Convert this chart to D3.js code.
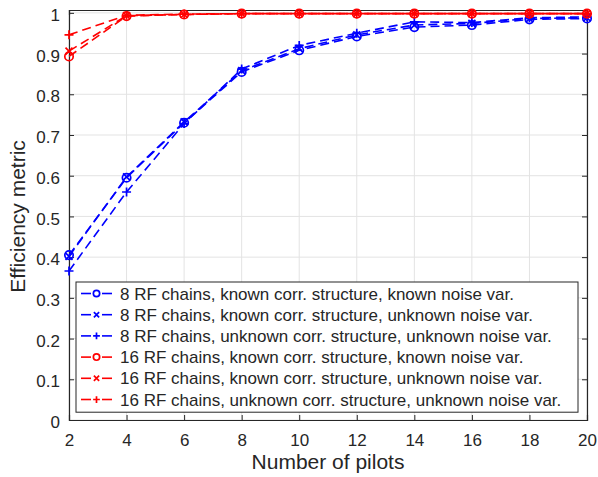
<!DOCTYPE html>
<html>
<head>
<meta charset="utf-8">
<script src="https://cdn.jsdelivr.net/npm/d3@7"></script>
<style>
  body { margin: 0; background: #fff; }
  text { font-family: "Liberation Sans", Arial, sans-serif; fill: #262626; }
</style>
</head>
<body>
<script>
// pilots on x axis
const pilots = [2, 4, 6, 8, 10, 12, 14, 16, 18, 20];

// 8 RF chains (blue)
const rf8KnownKnown     = [0.405, 0.595, 0.730, 0.855, 0.908, 0.942, 0.965, 0.970, 0.984, 0.986];
const rf8KnownUnknown   = [0.402, 0.597, 0.732, 0.858, 0.912, 0.946, 0.970, 0.974, 0.986, 0.988];
const rf8UnknownUnknown = [0.366, 0.560, 0.728, 0.862, 0.920, 0.950, 0.978, 0.976, 0.988, 0.990];

// 16 RF chains (red)
const rf16KnownKnown     = [0.893, 0.992, 0.996, 0.998, 0.998, 0.998, 0.998, 0.998, 0.998, 0.998];
const rf16KnownUnknown   = [0.906, 0.993, 0.996, 0.998, 0.998, 0.998, 0.998, 0.998, 0.998, 0.998];
const rf16UnknownUnknown = [0.946, 0.994, 0.997, 0.998, 0.998, 0.998, 0.998, 0.998, 0.998, 0.998];

const xTicks = [2, 4, 6, 8, 10, 12, 14, 16, 18, 20];
const yTicks = [0, 0.1, 0.2, 0.3, 0.4, 0.5, 0.6, 0.7, 0.8, 0.9, 1];

const series = [
  { name: "8 RF chains, known corr. structure, known noise var.", values: rf8KnownKnown, color: "#0000ff", marker: "o" },
  { name: "8 RF chains, known corr. structure, unknown noise var.", values: rf8KnownUnknown, color: "#0000ff", marker: "x" },
  { name: "8 RF chains, unknown corr. structure, unknown noise var.", values: rf8UnknownUnknown, color: "#0000ff", marker: "+" },
  { name: "16 RF chains, known corr. structure, known noise var.", values: rf16KnownKnown, color: "#ff0000", marker: "o" },
  { name: "16 RF chains, known corr. structure, unknown noise var.", values: rf16KnownUnknown, color: "#ff0000", marker: "x" },
  { name: "16 RF chains, unknown corr. structure, unknown noise var.", values: rf16UnknownUnknown, color: "#ff0000", marker: "+" }
];

const width = 598, height = 477;
const margin = { left: 69, right: 11, top: 10, bottom: 57 };

const svg = d3.select("body").append("svg")
  .attr("width", width).attr("height", height);

const x = d3.scaleLinear().domain([2, 20]).range([margin.left, width - margin.right]);
const y = d3.scaleLinear().domain([0, 1.007]).range([height - margin.bottom, margin.top]);

// grid
const grid = svg.append("g");
grid.selectAll(".vg").data(xTicks).enter().append("line")
  .attr("x1", d => x(d)).attr("x2", d => x(d))
  .attr("y1", y.range()[0]).attr("y2", y.range()[1])
  .attr("stroke", "#e3e3e3").attr("stroke-width", 1);
grid.selectAll(".hg").data(yTicks).enter().append("line")
  .attr("y1", d => y(d)).attr("y2", d => y(d))
  .attr("x1", x.range()[0]).attr("x2", x.range()[1])
  .attr("stroke", "#e3e3e3").attr("stroke-width", 1);

// axes
const axisColor = "#262626";
const xAxis = svg.append("g").attr("transform", `translate(0,${y(0)})`)
  .call(d3.axisBottom(x).tickValues(xTicks).tickSize(-5).tickPadding(14).tickFormat(d3.format("d")));
const xAxisTop = svg.append("g").attr("transform", `translate(0,${y.range()[1]})`)
  .call(d3.axisTop(x).tickValues(xTicks).tickSize(-5).tickFormat(""));
const yAxis = svg.append("g").attr("transform", `translate(${x(2)},0)`)
  .call(d3.axisLeft(y).tickValues(yTicks).tickSize(-5).tickPadding(9).tickFormat(d => d === 0 || d === 1 ? d3.format("d")(d) : d3.format(".1f")(d)));
const yAxisRight = svg.append("g").attr("transform", `translate(${x(20)},0)`)
  .call(d3.axisRight(y).tickValues(yTicks).tickSize(-5).tickFormat(""));

[xAxis, xAxisTop, yAxis, yAxisRight].forEach(a => {
  a.select(".domain").attr("stroke", axisColor).attr("stroke-width", 1.2);
  a.selectAll(".tick line").attr("stroke", axisColor);
  a.selectAll(".tick text").style("font-size", "17px").attr("fill", axisColor);
});
yAxis.selectAll(".tick text").attr("dy", "0.45em");

// lines
const line = d3.line().x((d, i) => x(pilots[i])).y(d => y(d));

function drawMarker(g, type, cx, cy, color, k) {
  k = k || 1;
  if (type === "o") {
    g.append("circle").attr("cx", cx).attr("cy", cy).attr("r", 4.2 * k)
      .attr("fill", "none").attr("stroke", color).attr("stroke-width", 1.7);
  } else if (type === "x") {
    const s = 3.5 * k;
    g.append("path").attr("d", `M${cx - s},${cy - s}L${cx + s},${cy + s}M${cx - s},${cy + s}L${cx + s},${cy - s}`)
      .attr("stroke", color).attr("stroke-width", 1.7);
  } else {
    const s = 4.5 * k;
    g.append("path").attr("d", `M${cx - s},${cy}L${cx + s},${cy}M${cx},${cy - s}L${cx},${cy + s}`)
      .attr("stroke", color).attr("stroke-width", 1.7);
  }
}

const plot = svg.append("g");
series.forEach(s => {
  plot.append("path").datum(s.values)
    .attr("d", line).attr("fill", "none")
    .attr("stroke", s.color).attr("stroke-width", 1.6)
    .attr("stroke-dasharray", "9,5");
  s.values.forEach((v, i) => drawMarker(plot, s.marker, x(pilots[i]), y(v), s.color));
});

// legend
const lg = svg.append("g");
const lgX = 76, lgY = 282, lgW = 502, rowH = 21.2;
lg.append("rect").attr("x", lgX).attr("y", lgY).attr("width", lgW).attr("height", rowH * series.length + 3)
  .attr("fill", "#fff").attr("stroke", axisColor).attr("stroke-width", 1);
series.forEach((s, i) => {
  const cy = lgY + 11.5 + i * rowH;
  lg.append("line").attr("x1", lgX + 5).attr("x2", lgX + 15).attr("y1", cy).attr("y2", cy)
    .attr("stroke", s.color).attr("stroke-width", 1.6);
  lg.append("line").attr("x1", lgX + 26).attr("x2", lgX + 36).attr("y1", cy).attr("y2", cy)
    .attr("stroke", s.color).attr("stroke-width", 1.6);
  drawMarker(lg, s.marker, lgX + 20.5, cy, s.color, 0.75);
  lg.append("text").attr("x", lgX + 44).attr("y", cy).attr("dy", "0.36em")
    .style("font-size", "17px").attr("fill", "#000").text(s.name);
});

// axis titles
svg.append("text").attr("x", (x(2) + x(20)) / 2).attr("y", 469)
  .attr("text-anchor", "middle").style("font-size", "21px").text("Number of pilots");
svg.append("text").attr("transform", `translate(25,${(y(0) + y(1)) / 2}) rotate(-90)`)
  .attr("text-anchor", "middle").style("font-size", "21px").text("Efficiency metric");
</script>
</body>
</html>
